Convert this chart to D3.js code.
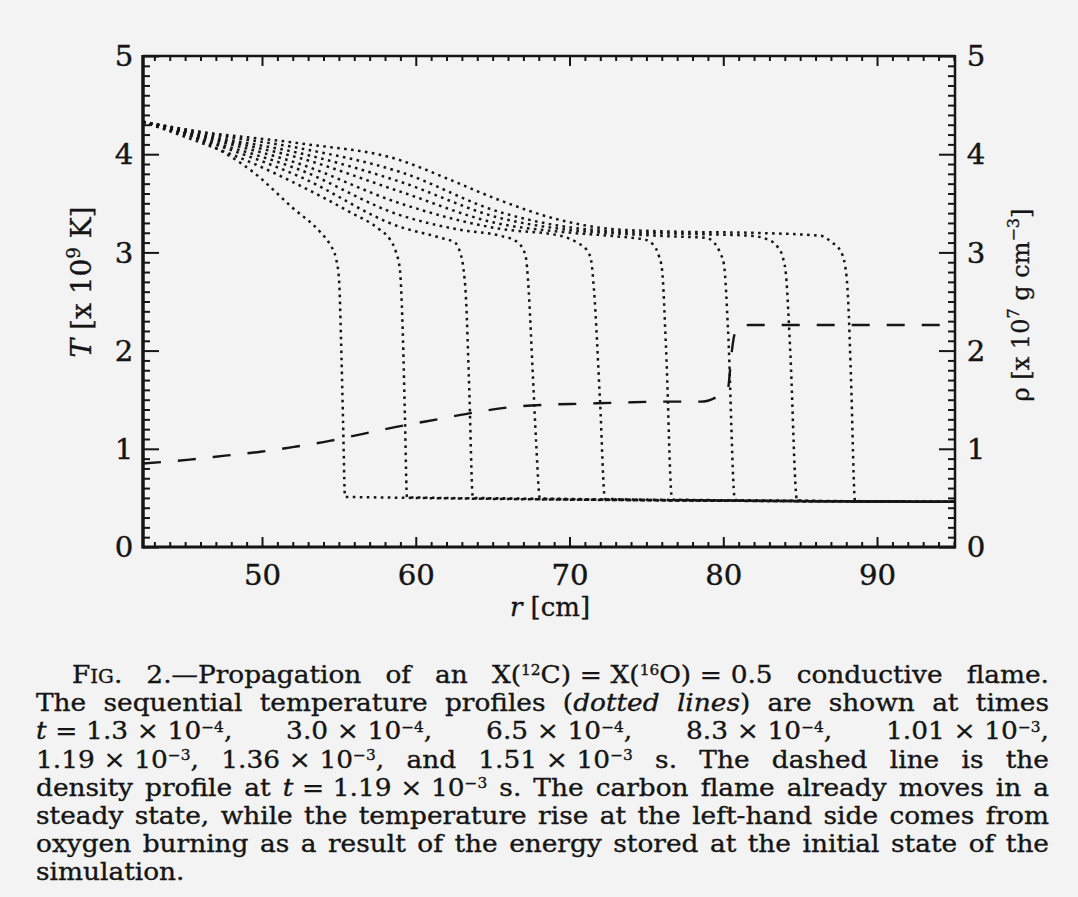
<!DOCTYPE html>
<html><head><meta charset="utf-8">
<script src="https://cdn.jsdelivr.net/npm/d3@7"></script>
<style>
html,body{margin:0;padding:0;background:#f3f3f3;}
svg{display:block;}
</style></head><body>
<svg id="chart" width="1078" height="897"></svg>
<script>
// ---------- data ----------
const rTicks = [50, 60, 70, 80, 90];
const tTicks = [0, 1, 2, 3, 4, 5];
const rhoTicks = [0, 1, 2, 3, 4, 5];

// temperature profiles [r (cm), T (1e9 K)]
const profile1 = [[42.26,4.33],[44.34,4.25],[46.42,4.11],[49.41,3.82],[52.02,3.45],[53.77,3.21],[54.42,3.08],[54.81,2.94],[55.01,2.72],[55.14,2.11],[55.27,1.29],[55.40,0.510],[95.07,0.460]];
const profile2 = [[42.26,4.33],[45.97,4.12],[49.22,3.92],[52.47,3.68],[55.72,3.41],[57.67,3.23],[58.33,3.13],[58.72,3.00],[58.97,2.82],[59.17,2.11],[59.30,1.29],[59.43,0.505],[95.07,0.460]];
const profile3 = [[42.26,4.33],[45.97,4.15],[52.47,3.77],[58.97,3.26],[61.58,3.15],[62.55,3.10],[62.88,3.00],[63.07,2.87],[63.27,2.52],[63.46,1.70],[63.72,0.500],[95.07,0.460]];
const profile4 = [[42.26,4.33],[45.97,4.16],[52.47,3.84],[58.97,3.38],[62.88,3.23],[65.48,3.17],[66.46,3.12],[66.91,3.05],[67.17,2.94],[67.30,2.72],[67.63,1.70],[67.82,1.09],[68.08,0.494],[95.07,0.460]];
const profile5 = [[42.26,4.33],[45.97,4.18],[52.47,3.90],[58.97,3.50],[65.48,3.24],[69.38,3.17],[70.49,3.10],[71.14,3.02],[71.40,2.92],[71.59,2.62],[71.98,1.50],[72.31,0.489],[95.07,0.460]];
const profile6 = [[42.26,4.33],[45.97,4.19],[52.47,3.96],[58.97,3.62],[65.48,3.29],[69.38,3.21],[73.28,3.16],[74.91,3.13],[75.43,3.08],[75.82,2.96],[76.02,2.82],[76.28,2.01],[76.67,0.483],[95.07,0.460]];
const profile7 = [[42.26,4.33],[45.97,4.20],[52.47,4.01],[58.97,3.72],[65.48,3.35],[69.38,3.24],[73.28,3.19],[77.19,3.16],[78.82,3.15],[79.40,3.10],[79.78,3.00],[80.05,2.87],[80.31,2.21],[80.76,0.478],[95.07,0.460]];
const profile8 = [[42.26,4.33],[45.97,4.22],[52.47,4.06],[58.97,3.82],[65.48,3.41],[69.38,3.27],[73.28,3.21],[77.19,3.19],[81.74,3.17],[82.91,3.13],[83.56,3.05],[83.89,2.94],[84.08,2.77],[84.35,2.01],[84.80,0.473],[95.07,0.460]];
const profile9 = [[42.26,4.33],[45.97,4.23],[52.47,4.11],[58.97,3.94],[62.23,3.74],[65.48,3.53],[69.38,3.33],[72.63,3.24],[77.19,3.21],[81.74,3.20],[86.29,3.17],[87.08,3.10],[87.60,3.02],[87.92,2.87],[88.12,2.52],[88.31,1.70],[88.57,0.468],[95.07,0.460]];

// density profile at t = 1.19e-3 s  [r (cm), rho (1e7 g/cm3)]
const densityProfile = [[42.26,0.85],[45.3,0.89],[47.6,0.93],[49.9,0.97],[52.1,1.02],[54.4,1.08],[56.5,1.15],[58.65,1.22],[61.4,1.30],[64.2,1.38],[66.5,1.43],[68.7,1.45],[71.0,1.46],[73.3,1.47],[75.9,1.48],[78.5,1.48],[79.6,1.53],[80.31,1.62],[80.44,1.80],[80.57,2.01],[80.76,2.18],[81.09,2.25],[81.74,2.26],[95.07,2.26]];

const profiles = [profile1, profile2, profile3, profile4, profile5, profile6, profile7, profile8, profile9];

// caption: [text, kind]  kind: n normal, i italic, sup superscript, sc small caps
// U+2004 is used for the tight (non-justified) spaces inside formulas
const S = '\u2004';
const captionLines = [
  [["F","n"],["IG","sc"],[". 2.—Propagation of an X(","n"],["12","sup"],["C)"+S+"="+S+"X(","n"],["16","sup"],["O)"+S+"="+S+"0.5 conductive flame.","n"]],
  [["The sequential temperature profiles (","n"],["dotted lines","i"],[") are shown at times","n"]],
  [["t","i"],[S+"="+S+"1.3"+S+"×"+S+"10","n"],["−4","sup"],[", 3.0"+S+"×"+S+"10","n"],["−4","sup"],[", 6.5"+S+"×"+S+"10","n"],["−4","sup"],[", 8.3"+S+"×"+S+"10","n"],["−4","sup"],[", 1.01"+S+"×"+S+"10","n"],["−3","sup"],[",","n"]],
  [["1.19"+S+"×"+S+"10","n"],["−3","sup"],[", 1.36"+S+"×"+S+"10","n"],["−3","sup"],[", and 1.51"+S+"×"+S+"10","n"],["−3","sup"],[" s. The dashed line is the","n"]],
  [["density profile at ","n"],["t","i"],[S+"="+S+"1.19"+S+"×"+S+"10","n"],["−3","sup"],[" s. The carbon flame already moves in a","n"]],
  [["steady state, while the temperature rise at the left-hand side comes from","n"]],
  [["oxygen burning as a result of the energy stored at the initial state of the","n"]],
  [["simulation.","n"]]
];

// ---------- drawing ----------
const W = 1078, H = 897;
const svg = d3.select('#chart');
const ink = '#151515';
const font = '"DejaVu Serif", serif';
svg.append('rect').attr('width', W).attr('height', H).attr('fill', '#f3f3f3');

const X0 = 143, X1 = 955, Y0 = 547, Y1 = 56;
const x = d3.scaleLinear().domain([42.26, 95.07]).range([X0, X1]);
const y = d3.scaleLinear().domain([0, 5]).range([Y0, Y1]);
const yR = d3.scaleLinear().domain([0, 5]).range([Y0, Y1]);

// data lines
const lineT = d3.line().x(d => x(d[0])).y(d => y(d[1])).curve(d3.curveMonotoneX);
const lineR = d3.line().x(d => x(d[0])).y(d => yR(d[1])).curve(d3.curveMonotoneX);
const plot = svg.append('g');
profiles.forEach(p => {
  plot.append('path').attr('d', lineT(p)).attr('fill', 'none')
    .attr('stroke', ink).attr('stroke-width', 2.5).attr('stroke-dasharray', '2.6,4.4');
});
plot.append('path').attr('d', lineR(densityProfile)).attr('fill', 'none')
  .attr('stroke', ink).attr('stroke-width', 2.4).attr('stroke-dasharray', '18,17');

// axes
function clean(g) {
  g.select('.domain').remove();
  g.selectAll('line').attr('stroke', ink).attr('stroke-width', 2);
  g.selectAll('text').attr('font-family', font).attr('font-size', 27).attr('fill', ink)
    .attr('stroke', ink).attr('stroke-width', 0.4);
}
const rMinor = d3.range(43, 96).filter(v => v % 10 !== 0);
const vMinor = d3.range(1, 50).filter(v => v % 10 !== 0).map(v => v / 10);

// bottom
svg.append('g').attr('transform', `translate(0,${Y0})`)
  .call(d3.axisBottom(x).tickValues(rMinor).tickSize(-5).tickFormat('')).call(clean);
const bAx = svg.append('g').attr('transform', `translate(0,${Y0})`)
  .call(d3.axisBottom(x).tickValues(rTicks).tickSize(-10).tickFormat(d3.format('d'))).call(clean);
bAx.selectAll('text').attr('y', 0).attr('dy', 0).attr('transform', 'translate(0,38) scale(1.08,1)');
// top
svg.append('g').attr('transform', `translate(0,${Y1})`)
  .call(d3.axisTop(x).tickValues(rMinor).tickSize(-5).tickFormat('')).call(clean);
svg.append('g').attr('transform', `translate(0,${Y1})`)
  .call(d3.axisTop(x).tickValues(rTicks).tickSize(-10).tickFormat('')).call(clean);
// left
svg.append('g').attr('transform', `translate(${X0},0)`)
  .call(d3.axisLeft(y).tickValues(vMinor).tickSize(-7).tickFormat('')).call(clean);
const lAx = svg.append('g').attr('transform', `translate(${X0},0)`)
  .call(d3.axisLeft(y).tickValues(tTicks).tickSize(-16).tickPadding(9).tickFormat(d3.format('d'))).call(clean);
lAx.selectAll('text').attr('dy', '0.36em').attr('transform', 'scale(1.08,1)');
// right
svg.append('g').attr('transform', `translate(${X1},0)`)
  .call(d3.axisRight(yR).tickValues(vMinor).tickSize(-7).tickFormat('')).call(clean);
const rAx = svg.append('g').attr('transform', `translate(${X1},0)`)
  .call(d3.axisRight(yR).tickValues(rhoTicks).tickSize(-16).tickPadding(11).tickFormat(d3.format('d'))).call(clean);
rAx.selectAll('text').attr('dy', '0.36em').attr('transform', 'scale(1.08,1)');

// frame
const frame = svg.append('g').attr('stroke', ink).attr('fill', 'none');
frame.append('line').attr('x1', X0).attr('x2', X0).attr('y1', Y1 - 1).attr('y2', Y0 + 1.5).attr('stroke-width', 3.5);
frame.append('line').attr('x1', X1).attr('x2', X1).attr('y1', Y1 - 1).attr('y2', Y0 + 1.5).attr('stroke-width', 2.5);
frame.append('line').attr('x1', X0).attr('x2', X1).attr('y1', Y0).attr('y2', Y0).attr('stroke-width', 3);
frame.append('line').attr('x1', X0).attr('x2', X1).attr('y1', Y1).attr('y2', Y1).attr('stroke-width', 2.5);

// axis titles
const titleStyle = t => t.attr('font-family', font).attr('fill', ink).attr('stroke', ink).attr('stroke-width', 0.35);
const xt = svg.append('text').attr('x', 550).attr('y', 616).attr('text-anchor', 'middle')
  .attr('font-size', 26).call(titleStyle);
xt.append('tspan').attr('font-style', 'italic').text('r');
xt.append('tspan').text(' [cm]');

const yt = svg.append('text').attr('transform', 'translate(91,282) rotate(-90)').attr('text-anchor', 'middle')
  .attr('font-size', 28).call(titleStyle);
yt.append('tspan').attr('font-style', 'italic').text('T');
yt.append('tspan').text(' [x 10');
yt.append('tspan').attr('font-size', 18).attr('dy', -11).text('9');
yt.append('tspan').attr('dy', 11).text(' K]');

const rt = svg.append('text').attr('transform', 'translate(1029,305) rotate(-90)').attr('text-anchor', 'middle')
  .attr('font-size', 24).call(titleStyle);
rt.append('tspan').text('ρ [x 10');
rt.append('tspan').attr('font-size', 16).attr('dy', -10).text('7');
rt.append('tspan').attr('dy', 10).text(' g cm');
rt.append('tspan').attr('font-size', 16).attr('dy', -10).text('−3');
rt.append('tspan').attr('dy', 10).text(']');

// caption
const CAP_L = 36, CAP_R = 1049, SX = 1.1, IND = 72, FS = 24;
const capG = svg.append('g').attr('transform', `translate(${CAP_L},0) scale(${SX},1)`);
captionLines.forEach((segs, i) => {
  const x0 = i === 0 ? (IND - CAP_L) / SX : 0;
  const t = capG.append('text').attr('x', x0).attr('y', 683 + 28.2 * i)
    .attr('font-family', font).attr('font-size', FS).attr('fill', ink)
    .attr('stroke', ink).attr('stroke-width', 0.35);
  let shift = 0;
  segs.forEach(([s, k]) => {
    const ts = t.append('tspan').text(s);
    if (k === 'i') ts.attr('font-style', 'italic');
    if (k === 'sc') ts.attr('font-size', 18);
    if (k === 'sup') { ts.attr('font-size', 14).attr('dy', -7.5); shift = 7.5; }
    else if (shift) { ts.attr('dy', shift); shift = 0; }
  });
  if (i < captionLines.length - 1) {
    const target = (CAP_R - CAP_L) / SX - x0;
    const nat = t.node().getComputedTextLength();
    const n = (t.text().match(/ /g) || []).length;
    if (n > 0) t.attr('word-spacing', Math.max(0, (target - nat) / n));
  }
});
</script>
</body></html>
